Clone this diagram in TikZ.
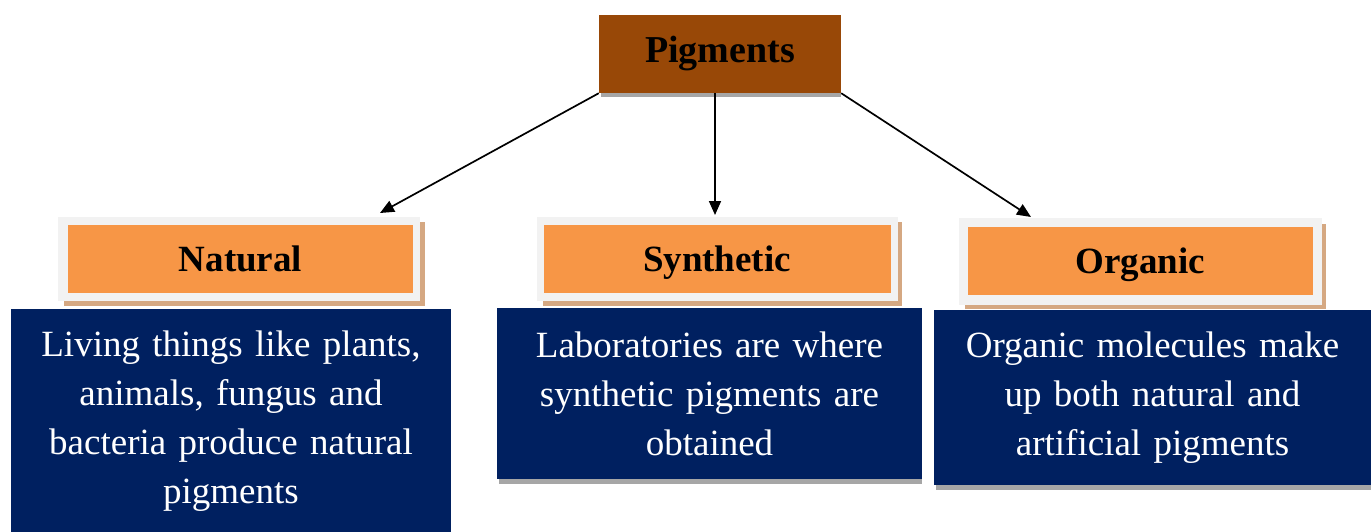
\documentclass[tikz,border=0pt]{standalone}
\usepackage{fontspec}
\setmainfont{Liberation Serif}
\usetikzlibrary{arrows.meta}
\definecolor{pigbrown}{HTML}{984807}
\definecolor{headorange}{HTML}{F79646}
\definecolor{framegray}{HTML}{F2F2F2}
\definecolor{tanshadow}{HTML}{D5A882}
\definecolor{navy}{HTML}{002060}
\definecolor{shadowgray}{HTML}{A6A6A6}
\tikzset{
  titlebox/.style={font=\fontsize{38}{49}\selectfont\bfseries, fill=pigbrown, text=black, inner sep=0pt, text height=24pt, text depth=8pt},
  headbox/.style={font=\fontsize{37}{49}\selectfont\bfseries, fill=headorange, text=black, inner sep=0pt, text height=25pt, text depth=0pt},
  framebox/.style={fill=framegray, inner sep=0pt},
  descbox/.style={font=\fontsize{37}{49}\selectfont, fill=navy, text=white, inner sep=0pt, align=center},
  conn/.style={-{Triangle[length=14pt,width=12pt]}, line width=1.7pt, black}
}
\begin{document}
\begin{tikzpicture}[x=1pt,y=-1pt]
\useasboundingbox (0,0) rectangle (1371,531);
% Title
\fill[shadowgray] (601,20) rectangle (841,97);
\node[titlebox, minimum width=242pt, minimum height=78pt] (pig) at (720,54) {Pigments};
% Natural header
\fill[tanshadow] (64,222) rectangle (425,306);
\node[framebox, minimum width=362pt, minimum height=84pt] (natf) at (239,258.5) {};
\node[headbox, minimum width=345pt, minimum height=68pt] (nat) at (240.5,259) {Natural};
% Synthetic header
\fill[tanshadow] (543,222) rectangle (902,306);
\node[framebox, minimum width=361pt, minimum height=84pt] (synf) at (717.5,258.5) {};
\node[headbox, minimum width=347pt, minimum height=68pt] (syn) at (717,259) {Synthetic};
% Organic header
\fill[tanshadow] (965,224) rectangle (1326,309);
\node[framebox, minimum width=363pt, minimum height=87pt] (orgf) at (1140.5,261.5) {};
\node[headbox, minimum width=345pt, minimum height=68pt] (org) at (1140.5,261) {Organic};
% Description boxes
\node[descbox, minimum width=440pt, minimum height=225pt, text width=430pt] (natd) at (231,421.5)
  {Living things like plants,\\animals, fungus and\\bacteria produce natural\\pigments};
\fill[shadowgray] (499,315) rectangle (922,484);
\node[descbox, minimum width=425pt, minimum height=171pt, text width=415pt] (synd) at (709.5,393.5)
  {Laboratories are where\\synthetic pigments are\\obtained};
\fill[shadowgray] (936,315) rectangle (1371,490);
\node[descbox, minimum width=437pt, minimum height=175pt, text width=427pt] (orgd) at (1152.5,397.5)
  {Organic molecules make\\up both natural and\\artificial pigments};
% Connectors
\coordinate (natin) at (380,213);
\coordinate (synin) at (715,215);
\coordinate (orgin) at (1031,217);
\coordinate (pigmid) at (715,93);
\draw[conn] (pig.south west) -- (natin);
\draw[conn] (pigmid) -- (synin);
\draw[conn] (pig.south east) -- (orgin);
\end{tikzpicture}
\end{document}
